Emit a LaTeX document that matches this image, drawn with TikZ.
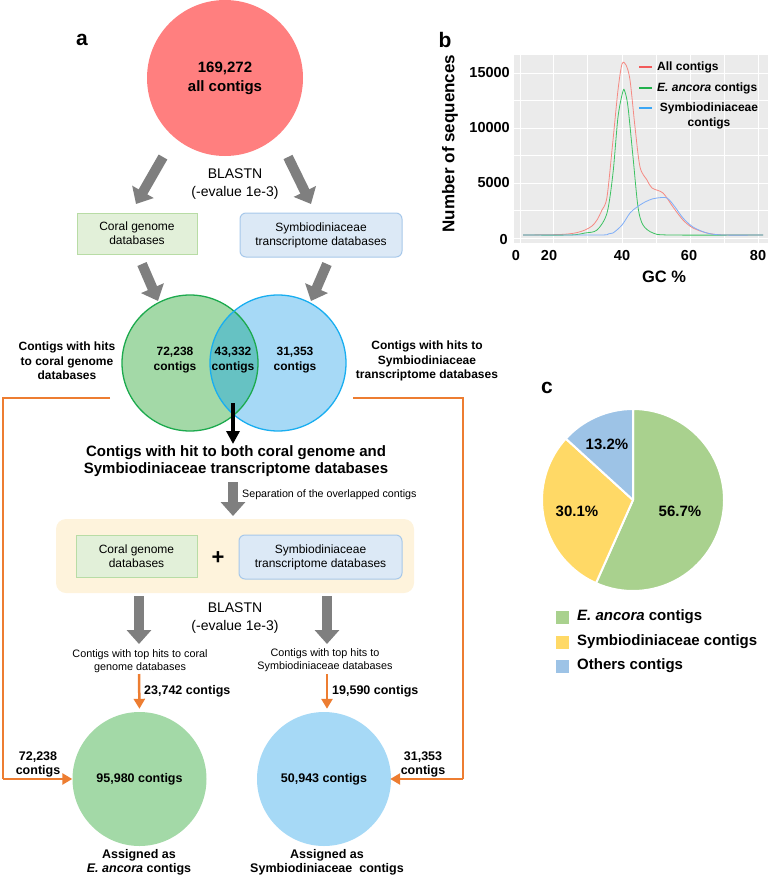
\documentclass[tikz,border=0pt]{standalone}
\usepackage{fontspec}
\setmainfont{Liberation Sans}
\usetikzlibrary{arrows.meta}
\definecolor{redc}{HTML}{FF7F7F}
\definecolor{grayA}{HTML}{7F7F7F}
\definecolor{coralfill}{HTML}{E2F0D9}
\definecolor{coraldraw}{HTML}{B8DCA5}
\definecolor{symfill}{HTML}{DCE9F6}
\definecolor{symdraw}{HTML}{A7C8EA}
\definecolor{vgreen}{HTML}{A3D9A7}
\definecolor{vgreenb}{HTML}{1DAA4E}
\definecolor{vblue}{HTML}{A6D9F6}
\definecolor{vblueb}{HTML}{19AEF0}
\definecolor{vteal}{HTML}{66C2C3}
\definecolor{cream}{HTML}{FEF3DC}
\definecolor{orangeC}{HTML}{ED7D31}
\definecolor{panel}{HTML}{EBEBEB}
\definecolor{cred}{HTML}{F58A83}
\definecolor{cgreen}{HTML}{3CC262}
\definecolor{cblue}{HTML}{7FAEF8}
\definecolor{kred}{HTML}{F25A5A}
\definecolor{kgreen}{HTML}{22B14C}
\definecolor{kblue}{HTML}{3BA6F5}
\definecolor{piegreen}{HTML}{A9D18E}
\definecolor{pieyellow}{HTML}{FFD966}
\definecolor{pieblue}{HTML}{9DC3E6}
\newcommand\fsz[2]{\fontsize{#1}{#2}\selectfont}
\begin{document}
\begin{tikzpicture}[x=1pt,y=-1pt,
  grayarrow/.style={draw=grayA, line width=10pt, -{Triangle[width=24pt,length=14pt]}},
  orline/.style={draw=orangeC, line width=2.5pt},
  orarrow/.style={draw=orangeC, line width=2.5pt, -{Triangle[width=11pt,length=10pt]}},
  blackarrow/.style={draw=black, line width=3.5pt, -{Triangle[width=13pt,length=13pt]}},
  coralbox/.style={draw=coraldraw, fill=coralfill, line width=1pt, align=center, font=\fsz{12}{14}, inner sep=0pt},
  symbox/.style={draw=symdraw, fill=symfill, line width=1pt, rounded corners=6pt, align=center, font=\fsz{12}{14}, inner sep=0pt},
  bigcirc/.style={circle, inner sep=0pt, align=center},
  btxt/.style={align=center, font=\bfseries\fsz{12}{14.5}, inner sep=0pt},
  rtxt/.style={align=center, inner sep=0pt},
  panellabel/.style={font=\bfseries\fsz{21}{21}, inner sep=0pt},
  ticklab/.style={font=\bfseries\fsz{14.5}{15}, inner sep=0pt},
  legtxt/.style={font=\bfseries\fsz{12}{15}, inner sep=0pt},
  pietxt/.style={font=\bfseries\fsz{15}{15}, inner sep=0pt},
]
\useasboundingbox (0,0) rectangle (778,878);

% ---------- panel a ----------
\node[panellabel] (la) at (82,40) {a};
\node[bigcirc, fill=redc, minimum size=156pt, font=\bfseries\fsz{15}{19}] (all) at (225,78) {169,272\\all contigs};

\coordinate (g1s) at (163,157); \coordinate (g1e) at (136,204);
\coordinate (g2s) at (288,157); \coordinate (g2e) at (311,204);
\draw[grayarrow] (g1s) -- (g1e);
\draw[grayarrow] (g2s) -- (g2e);
\node[rtxt, font=\fsz{14}{18}] (bl1) at (235,184) {BLASTN\\(-evalue 1e-3)};

\node[coralbox, minimum width=120pt, minimum height=41pt] (coral1) at (137,233.5) {Coral genome\\databases};
\node[symbox, minimum width=162pt, minimum height=44pt] (sym1) at (321,235) {Symbiodiniaceae\\transcriptome databases};

\coordinate (g3s) at (142,264); \coordinate (g3e) at (158,301);
\coordinate (g4s) at (327,264); \coordinate (g4e) at (311,301);
\draw[grayarrow] (g3s) -- (g3e);
\draw[grayarrow] (g4s) -- (g4e);

% Venn
\node[bigcirc, fill=vgreen, minimum size=136pt] (vl) at (190,363) {};
\node[bigcirc, fill=vblue, minimum size=136pt] (vr) at (278,363) {};
\begin{scope}
  \clip (190,363) circle (68pt);
  \fill[vteal] (278,363) circle (68pt);
\end{scope}
\draw[vgreenb, line width=1.3pt] (190,363) circle (68pt);
\draw[vblueb, line width=1.3pt] (278,363) circle (68pt);
\node[btxt, font=\bfseries\fsz{12}{15}] (n1) at (175,360.5) {72,238\\contigs};
\node[btxt, font=\bfseries\fsz{12}{15}] (n2) at (233,360.5) {43,332\\contigs};
\node[btxt, font=\bfseries\fsz{12}{15}] (n3) at (295,360.5) {31,353\\contigs};

\node[btxt] (lhits) at (67,361) {Contigs with hits\\to coral genome\\databases};
\node[btxt] (rhits) at (427,361) {Contigs with hits to\\Symbiodiniaceae\\transcriptome databases};

\coordinate (bk1) at (233,403); \coordinate (bk2) at (233,444);
\draw[blackarrow] (bk1) -- (bk2);
\node[btxt, font=\bfseries\fsz{15}{17}] (both) at (236,461.5) {Contigs with hit to both coral genome and\\Symbiodiniaceae transcriptome databases};

\coordinate (g5s) at (233,482); \coordinate (g5e) at (233,516);
\draw[grayarrow] (g5s) -- (g5e);
\node[rtxt, anchor=west, font=\fsz{10.7}{12}] (sep) at (242,495) {Separation of the overlapped contigs};

\node[fill=cream, rounded corners=10pt, minimum width=358pt, minimum height=74pt, inner sep=0pt] (sepbox) at (235,556) {};
\node[coralbox, minimum width=121pt, minimum height=42pt] (coral2) at (136.5,556) {Coral genome\\databases};
\node[symbox, minimum width=163pt, minimum height=44pt] (sym2) at (320.5,557) {Symbiodiniaceae\\transcriptome databases};
\node[font=\bfseries\fsz{22}{22}, inner sep=0pt] (plus) at (218,558) {+};

\coordinate (g6s) at (139,596); \coordinate (g6e) at (139,644);
\coordinate (g7s) at (327,596); \coordinate (g7e) at (327,644);
\draw[grayarrow] (g6s) -- (g6e);
\draw[grayarrow] (g7s) -- (g7e);
\node[rtxt, font=\fsz{14}{18}] (bl2) at (235,618) {BLASTN\\(-evalue 1e-3)};

\node[rtxt, font=\fsz{10.8}{12.5}] (toph1) at (140,661) {Contigs with top hits to coral\\genome databases};
\node[rtxt, font=\fsz{10.8}{12.5}] (toph2) at (325,660) {Contigs with top hits to\\Symbiodiniaceae databases};

% result circles
\node[bigcirc, fill=vgreen, minimum size=134pt, font=\bfseries\fsz{12.5}{14}] (gc) at (139.5,779) {95,980 contigs};
\node[bigcirc, fill=vblue, minimum size=134pt, font=\bfseries\fsz{12.5}{14}] (bc) at (324,779) {50,943 contigs};

\coordinate (o1s) at (139,674);
\coordinate (o2s) at (327,674);
\draw[orarrow, shorten >=3pt] (o1s) -- (gc.north);
\draw[orarrow, shorten >=3pt] (o2s) -- (o2s |- bc.north);
\node[btxt, anchor=west, font=\bfseries\fsz{12.5}{14}] (c23) at (144,691) {23,742 contigs};
\node[btxt, anchor=west, font=\bfseries\fsz{12.5}{14}] (c19) at (332,691) {19,590 contigs};

\coordinate (ol1) at (110,398); \coordinate (ol2) at (3,398); \coordinate (ol3) at (3,779);
\draw[orline] (ol1) -- (ol2) -- (ol3);
\draw[orarrow] (3,779) -- (gc.west);
\coordinate (or1) at (353,398); \coordinate (or2) at (463,398); \coordinate (or3) at (463,779);
\draw[orline] (or1) -- (or2) -- (or3);
\draw[orarrow, shorten >=-1pt] (463,779) -- (bc.east);

\node[btxt, font=\bfseries\fsz{12.5}{13.5}] (l72) at (38,764.5) {72,238\\contigs};
\node[btxt, font=\bfseries\fsz{12.5}{13.5}] (l31) at (423,764.5) {31,353\\contigs};

\node[btxt, font=\bfseries\fsz{12.5}{14}] (asg1) at (139,862) {Assigned as\\\textit{E. ancora} contigs};
\node[btxt, font=\bfseries\fsz{12.5}{14}] (asg2) at (327,862) {Assigned as\\Symbiodiniaceae~ contigs};

% ---------- panel b ----------
\node[panellabel] (lb) at (445,40) {b};
\fill[panel] (514,55) rectangle (768,243);
\foreach \yy in {210.5,155.5,100.5} \draw[white, line width=0.3pt] (514,\yy) -- (768,\yy);
\foreach \xx in {520,587,656,724} \draw[white, line width=0.3pt] (\xx,55) -- (\xx,243);
\foreach \yy in {238,183,128,73} \draw[white, line width=0.6pt] (514,\yy) -- (768,\yy);
\foreach \xx in {553,622,690,758} \draw[white, line width=0.6pt] (\xx,55) -- (\xx,243);

\draw[cred, line width=0.8pt] plot[smooth, tension=0.5] coordinates {(523,235) (560,234.5) (575,233) (585,230) (592,226) (597,220) (602,210) (607,197) (613,140) (618,90) (622,64) (626,65) (630,80) (635,127) (640,167) (647,180) (652,188) (663,193) (673,207) (683,220) (693,228) (707,233) (723,235) (763,235)};
\draw[cgreen, line width=0.8pt] plot[smooth, tension=0.5] coordinates {(523,235) (570,235) (585,233) (597,230) (607,213) (613,173) (618,117) (623,91) (625,92) (628,107) (633,157) (638,207) (643,225) (653,233) (670,235) (763,235)};
\draw[cblue, line width=0.8pt] plot[smooth, tension=0.5] coordinates {(523,235) (600,235) (608,234) (613,233) (622,225) (630,213) (637,207) (645,202) (652,199) (657,198) (667,198) (675,207) (683,218) (693,227) (707,233) (723,235) (763,235)};

\node[ticklab, anchor=east] (y15) at (510,73) {15000};
\node[ticklab, anchor=east] (y10) at (510,128) {10000};
\node[ticklab, anchor=east] (y5) at (510,183) {5000};
\node[ticklab, anchor=east] (y0) at (508,240) {0};
\node[ticklab] (x0) at (516,256) {0};
\node[ticklab] (x20) at (549,256) {20};
\node[ticklab] (x40) at (622,256) {40};
\node[ticklab] (x60) at (689,256) {60};
\node[ticklab] (x80) at (758,256) {80};
\node[font=\bfseries\fsz{16.5}{17}, inner sep=0pt] (gcl) at (664,277) {GC \%};
\node[font=\bfseries\fsz{17}{17}, inner sep=0pt, rotate=90] (nseq) at (450,143.5) {Number of sequences};

\coordinate (k1a) at (639,67); \coordinate (k1b) at (652,67);
\coordinate (k2a) at (639,88); \coordinate (k2b) at (652,88);
\coordinate (k3a) at (639,108); \coordinate (k3b) at (652,108);
\draw[kred, line width=1.2pt] (k1a) -- (k1b);
\draw[kgreen, line width=1.2pt] (k2a) -- (k2b);
\draw[kblue, line width=1.2pt] (k3a) -- (k3b);
\node[legtxt, anchor=west] (lg1) at (657,67) {All contigs};
\node[legtxt, anchor=west] (lg2) at (657,88) {\textit{E. ancora} contigs};
\node[legtxt, align=center] (lg3) at (709,115.5) {Symbiodiniaceae\\contigs};

% ---------- panel c ----------
\node[panellabel] (lc) at (547,388) {c};
\coordinate (pc) at (633,500);
\filldraw[fill=piegreen, draw=white, line width=2pt, line join=round] (pc) -- ++(90:91pt) arc[start angle=90, end angle=-114, radius=91pt] -- cycle;
\filldraw[fill=pieyellow, draw=white, line width=2pt, line join=round] (pc) -- ++(-114:91pt) arc[start angle=-114, end angle=-222.4, radius=91pt] -- cycle;
\filldraw[fill=pieblue, draw=white, line width=2pt, line join=round] (pc) -- ++(137.6:91pt) arc[start angle=137.6, end angle=90, radius=91pt] -- cycle;
\node[pietxt] (p1) at (680,511) {56.7\%};
\node[pietxt] (p2) at (577,511) {30.1\%};
\node[pietxt] (p3) at (607,444) {13.2\%};

\node[fill=piegreen, minimum size=13pt, inner sep=0pt] (sq1) at (562.5,617) {};
\node[fill=pieyellow, minimum size=13pt, inner sep=0pt] (sq2) at (562.5,642) {};
\node[fill=pieblue, minimum size=13pt, inner sep=0pt] (sq3) at (562.5,666) {};
\node[pietxt, anchor=west] (t1) at (577,617) {\textit{E. ancora} contigs};
\node[pietxt, anchor=west] (t2) at (577,642) {Symbiodiniaceae contigs};
\node[pietxt, anchor=west] (t3) at (577,666) {Others contigs};
\end{tikzpicture}
\end{document}
